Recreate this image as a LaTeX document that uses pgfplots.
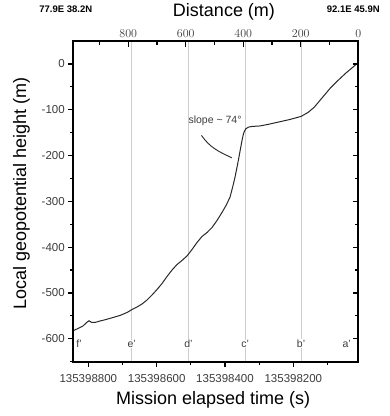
\documentclass[border=0pt]{standalone}
\usepackage{fontspec}
\setmainfont{Liberation Sans}
\usepackage{pgfplots}
\pgfplotsset{compat=1.18}
\definecolor{curve}{RGB}{40,40,40}
\definecolor{vline}{RGB}{205,205,205}
\definecolor{txt}{RGB}{60,60,60}
\begin{document}
\begin{tikzpicture}
\useasboundingbox (0,0) rectangle (390pt,416pt);
\begin{axis}[name=main,
  at={(73.3pt,54.3pt)}, anchor=south west,
  scale only axis, width=285pt, height=320.7pt,
  xmin=10, xmax=844, x dir=reverse,
  ymin=-650, ymax=50,
  axis line style={line width=1.6pt},
  tick pos=left, tick align=outside,
  major tick length=5pt, minor tick length=3pt,
  every tick/.style={black, line width=1.2pt},
  xtick={200,400,600,800},
  xticklabels={135398200,135398400,135398600,135398800},
  minor xtick={100,300,500,700},
  ytick={-600,-500,-400,-300,-200,-100,0},
  yticklabels={-600,-500,-400,-300,-200,-100,0},
  minor ytick={-650,-550,-450,-350,-250,-150,-50},
  tick label style={font=\fontsize{11.5}{13}\selectfont, text=txt},
  xticklabel style={yshift=-4pt},
  extra x ticks={177.5,341.4,507.3,673},
  extra x tick labels={},
  extra x tick style={grid=major, major grid style={vline, line width=1pt}, major tick length=0pt},
  xlabel={Mission elapsed time (s)},
  ylabel={Local geopotential height (m)},
  label style={font=\fontsize{18}{20}\selectfont},
  xlabel style={at={(axis description cs:0.491,-0.1194)}, anchor=center},
  ylabel style={at={(axis description cs:-0.1818,0.5245)}, anchor=center},
  clip=false,
]
\addplot[curve, line width=1pt] table {
t v
843.3 -581.9
830 -577.5
815.5 -572
805 -564.4
798 -560.7
790.6 -564
780.4 -564.4
765.8 -561.1
751.1 -558.5
727.7 -553.5
707.2 -549
686.7 -542.6
672 -536
657.5 -530.6
642.8 -524
628.2 -515.3
613.6 -504.4
599 -492.4
584.3 -479.3
569.7 -464
555 -449.8
540.4 -437.8
525.8 -429
511.2 -419.2
496.5 -405
481.9 -389.7
467.2 -376.6
452.6 -368
438 -357
423.4 -341.7
408.8 -324.2
397 -309
385.3 -290.8
376.5 -265.3
370.7 -247.2
361 -210.7
354.6 -184.5
350.2 -167
345.8 -151.7
339.9 -142
331.7 -138
320.9 -136.5
297.5 -135.4
274 -132
244 -127
209.7 -121.2
177.5 -114.6
157 -105.9
139.5 -95
116 -74.2
92.7 -53.5
69.3 -36
45.9 -19.7
28.3 -8.7
14.5 0
};
\node[font=\fontsize{10.5}{12}\selectfont, text=txt] at (axis cs:429.2,-123.4) {slope {\char`~} 74°};
\draw[curve, line width=0.9pt] (axis cs:468.9,-156.1) to[out=-55,in=155] (axis cs:380.3,-204.8);
\foreach \tx/\lab in {827/f,673/e,507.3/d,341.4/c,177.5/b,43.8/a}{
  \edef\temp{\noexpand\node[fill=white, inner sep=0.6pt, font=\noexpand\fontsize{10.5}{12}\noexpand\selectfont, text=txt] at (axis cs:\tx,-611) {\lab'};}
  \temp
}
\node[font=\bfseries\fontsize{9.5}{11}\selectfont] at (axis description cs:-0.0263,1.0998) {77.9E 38.2N};
\node[font=\bfseries\fontsize{9.5}{11}\selectfont] at (axis description cs:0.9825,1.0998) {92.1E 45.9N};
\end{axis}
\begin{axis}[
  at={(73.3pt,54.3pt)}, anchor=south west,
  scale only axis, width=285pt, height=320.7pt,
  xmin=0, xmax=991, x dir=reverse,
  ymin=-650, ymax=50,
  axis line style={line width=1.6pt},
  tick pos=right, ticklabel pos=right, tick align=inside,
  major tick length=5.5pt, minor tick length=3.5pt,
  every tick/.style={black, line width=1.2pt},
  xtick={0,200,400,600,800},
  minor xtick={100,300,500,700,900},
  ytick={-600,-500,-400,-300,-200,-100,0},
  minor ytick={-650,-550,-450,-350,-250,-150,-50},
  yticklabels={},
  tick label style={font=\fontsize{11.5}{13}\selectfont, text=txt},
  xlabel={Distance (m)},
  xlabel style={font=\fontsize{18}{20}\selectfont, at={(axis description cs:0.5288,1.0914)}, anchor=center},
]
\end{axis}
\end{tikzpicture}
\end{document}
